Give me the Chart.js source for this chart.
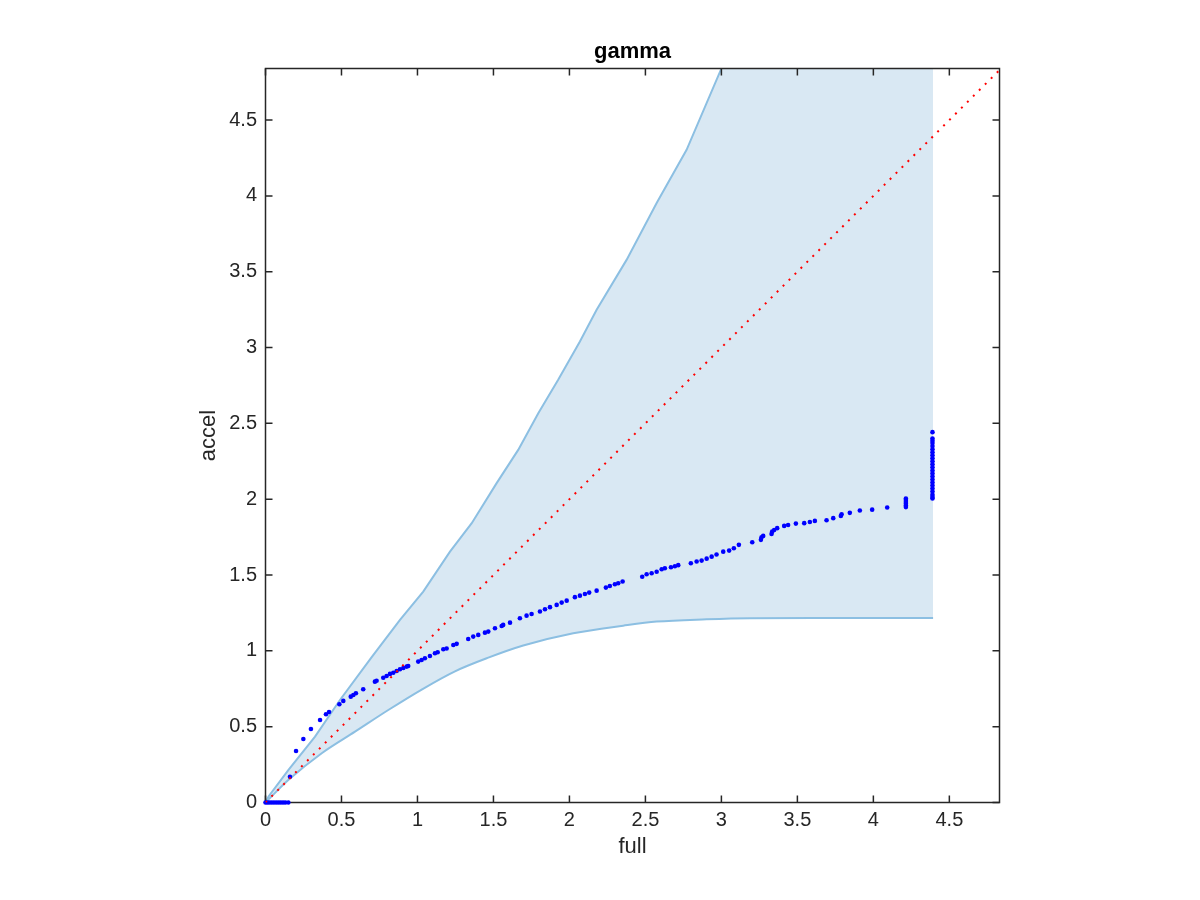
<!DOCTYPE html>
<html>
<head>
<meta charset="utf-8">
<title>gamma</title>
<script src="https://cdn.jsdelivr.net/npm/chart.js@4.4.1/dist/chart.umd.min.js"></script>
<style>
    body { margin: 0; background: #fff; }
    #chartContent { width: 1200px; height: 900px; }
</style>
</head>
<body>
<div id="chartContent"><canvas id="chart" width="1200" height="900"></canvas></div>
<script>
// tick values of both axes
const xTicks = [0, 0.5, 1, 1.5, 2, 2.5, 3, 3.5, 4, 4.5];
const yTicks = [0, 0.5, 1, 1.5, 2, 2.5, 3, 3.5, 4, 4.5];
const xMax = 4.83;
const yMax = 4.84;

// upper edge of the band (goes out of the box at the top)
const upperFull = [0, 0.02, 0.15, 0.326, 0.49, 0.70, 0.885, 1.038, 1.214, 1.357, 1.521, 1.663, 1.795, 1.926, 2.069, 2.179, 2.376, 2.574, 2.771, 3.001, 4.393];
const upperAccel = [0, 0.04, 0.214, 0.434, 0.676, 0.96, 1.204, 1.391, 1.654, 1.842, 2.106, 2.325, 2.567, 2.787, 3.04, 3.249, 3.578, 3.953, 4.304, 4.842, 7.55];

// lower edge of the band
const lowerFull = [0, 0.15, 0.37, 0.589, 0.808, 1.028, 1.247, 1.466, 1.696, 2.025, 2.354, 2.574, 2.903, 3.188, 3.6, 4.0, 4.393];
const lowerAccel = [0, 0.148, 0.325, 0.467, 0.61, 0.745, 0.865, 0.955, 1.035, 1.116, 1.166, 1.193, 1.208, 1.215, 1.216, 1.216, 1.216];

// y = x reference
const diagFull = [0, 4.84];
const diagAccel = [0, 4.84];

// measured points
const pointsFull = [
    0, 0.012, 0.025, 0.04, 0.055, 0.07, 0.085, 0.1, 0.115, 0.13, 0.15,
    0.161, 0.201, 0.249, 0.299, 0.359, 0.398, 0.418, 0.486, 0.512, 0.561, 0.578, 0.595, 0.643, 0.72, 0.731,
    0.775, 0.797, 0.819, 0.841, 0.863, 0.885, 0.907, 0.929, 0.939,
    1.005, 1.027, 1.049, 1.082, 1.115, 1.133, 1.170, 1.192, 1.236, 1.258, 1.334, 1.367, 1.4, 1.444, 1.466, 1.51, 1.554,
    1.564, 1.609, 1.674, 1.718, 1.751, 1.806, 1.839, 1.872, 1.916, 1.949, 1.982, 2.036, 2.069, 2.102, 2.130, 2.179, 2.240, 2.266, 2.299, 2.321,
    2.350, 2.479, 2.508, 2.541, 2.574, 2.607, 2.628, 2.668, 2.694, 2.716, 2.799, 2.837, 2.870, 2.903, 2.936, 2.968, 3.012, 3.051, 3.082, 3.115,
    3.203, 3.260, 3.264, 3.275, 3.330, 3.334, 3.347, 3.367, 3.413, 3.439, 3.490, 3.545, 3.582, 3.615, 3.692, 3.736, 3.786, 3.791, 3.845, 3.911, 3.992, 4.091,
    4.214, 4.214, 4.214, 4.214, 4.214, 4.214,
    4.389, 4.389, 4.389, 4.389, 4.389, 4.389, 4.389, 4.389, 4.389, 4.389, 4.389, 4.389,
    4.389, 4.389, 4.389, 4.389, 4.389, 4.389, 4.389, 4.389, 4.389, 4.389, 4.389
];
const pointsAccel = [
    0, 0, 0, 0, 0, 0, 0, 0, 0, 0, 0,
    0.170, 0.340, 0.419, 0.485, 0.544, 0.582, 0.597, 0.648, 0.670, 0.698, 0.709, 0.720, 0.747, 0.797, 0.803,
    0.823, 0.834, 0.848, 0.856, 0.867, 0.879, 0.887, 0.896, 0.900,
    0.929, 0.940, 0.951, 0.966, 0.984, 0.991, 1.011, 1.015, 1.039, 1.046, 1.078, 1.094, 1.105, 1.120, 1.127, 1.149, 1.164,
    1.171, 1.186, 1.215, 1.232, 1.243, 1.259, 1.274, 1.288, 1.303, 1.318, 1.331, 1.354, 1.364, 1.375, 1.384, 1.397, 1.417, 1.428, 1.439, 1.446,
    1.457, 1.489, 1.505, 1.512, 1.522, 1.538, 1.545, 1.551, 1.558, 1.565, 1.578, 1.589, 1.595, 1.608, 1.621, 1.635, 1.654, 1.661, 1.677, 1.699,
    1.716, 1.732, 1.749, 1.758, 1.771, 1.786, 1.797, 1.809, 1.824, 1.830, 1.839, 1.842, 1.850, 1.857, 1.861, 1.875, 1.890, 1.901, 1.910, 1.925, 1.931, 1.945,
    1.948, 1.958, 1.970, 1.982, 1.994, 2.005,
    2.442, 2.40, 2.385, 2.37, 2.35, 2.33, 2.31, 2.29, 2.27, 2.25, 2.23, 2.21,
    2.19, 2.17, 2.15, 2.13, 2.11, 2.09, 2.07, 2.05, 2.03, 2.015, 2.005
];

const axisColor = '#262626';

function toXY(xs, ys) {
    var out = [];
    var n = Math.min(xs.length, ys.length);
    for (var i = 0; i < n; i++) {
        out.push({ x: xs[i], y: ys[i] });
    }
    return out;
}

// box around the axes with inward ticks on all four sides (matlab look)
const boxPlugin = {
    id: 'boxPlugin',
    afterDatasetDraw(chart, args) {
        if (args.index !== 3) return;
        const ctx = chart.ctx;
        const area = chart.chartArea;
        const xs = chart.scales.x;
        const ys = chart.scales.y;
        const len = 7;
        ctx.save();
        ctx.strokeStyle = axisColor;
        ctx.lineWidth = 1.5;
        ctx.beginPath();
        xs.ticks.forEach(t => {
            const px = xs.getPixelForValue(t.value);
            ctx.moveTo(px, area.bottom);
            ctx.lineTo(px, area.bottom - len);
            ctx.moveTo(px, area.top);
            ctx.lineTo(px, area.top + len);
        });
        ys.ticks.forEach(t => {
            const py = ys.getPixelForValue(t.value);
            ctx.moveTo(area.left, py);
            ctx.lineTo(area.left + len, py);
            ctx.moveTo(area.right, py);
            ctx.lineTo(area.right - len, py);
        });
        ctx.stroke();
        ctx.strokeRect(area.left, area.top, area.right - area.left, area.bottom - area.top);
        ctx.restore();
    }
};

function configGraph() {
    const tickFont = { family: 'Liberation Sans', size: 20 };
    const labelFont = { family: 'Liberation Sans', size: 22 };
    return {
        type: 'scatter',
        data: {
            datasets: [
                {
                    label: 'y = x',
                    data: toXY(diagFull, diagAccel),
                    yAxisID: 'y',
                    showLine: true,
                    borderColor: '#ff0000',
                    borderWidth: 2,
                    borderDash: [2, 6.4],
                    pointRadius: 0,
                    fill: false,
                    order: 0
                },
                {
                    label: 'accel',
                    data: toXY(pointsFull, pointsAccel),
                    yAxisID: 'y',
                    pointRadius: 2.3,
                    pointBorderWidth: 0,
                    pointBackgroundColor: '#0000ff',
                    backgroundColor: '#0000ff',
                    clip: false,
                    order: 1
                },
                {
                    label: 'upper',
                    data: toXY(upperFull, upperAccel),
                    yAxisID: 'y',
                    showLine: true,
                    borderColor: 'rgb(140,191,226)',
                    borderWidth: 2,
                    backgroundColor: 'rgb(217,232,243)',
                    pointRadius: 0,
                    tension: 0,
                    fill: 3,
                    order: 3
                },
                {
                    label: 'lower',
                    data: toXY(lowerFull, lowerAccel),
                    yAxisID: 'y',
                    showLine: true,
                    borderColor: 'rgb(140,191,226)',
                    borderWidth: 2,
                    pointRadius: 0,
                    cubicInterpolationMode: 'monotone',
                    fill: false,
                    order: 2
                }
            ]
        },
        options: {
            responsive: false,
            animation: false,
            events: [],
            layout: { padding: { left: 65, right: 0, top: 0, bottom: 0 } },
            plugins: {
                legend: { display: false },
                tooltip: { enabled: false },
                title: {
                    display: true,
                    text: 'gamma',
                    color: '#000',
                    font: { family: 'Liberation Sans', size: 22, weight: 'bold' },
                    padding: { top: 38.5, bottom: 3.6 }
                }
            },
            scales: {
                x: {
                    type: 'linear',
                    position: 'bottom',
                    min: 0,
                    max: xMax,
                    grid: { display: false, drawTicks: false },
                    border: { display: false },
                    ticks: {
                        font: tickFont,
                        color: axisColor,
                        padding: 6.3,
                        autoSkip: false,
                        maxRotation: 0,
                        callback: v => String(v)
                    },
                    afterBuildTicks: s => { s.ticks = xTicks.map(v => ({ value: v })); },
                    afterFit: s => { s.height = 97.5; },
                    title: {
                        display: true,
                        text: 'full',
                        color: axisColor,
                        font: labelFont,
                        padding: { top: 0, bottom: 40 }
                    }
                },
                y: {
                    type: 'linear',
                    position: 'left',
                    min: 0,
                    max: yMax,
                    grid: { display: false, drawTicks: false },
                    border: { display: false },
                    ticks: {
                        font: tickFont,
                        color: axisColor,
                        padding: 8.5,
                        autoSkip: false,
                        callback: v => String(v)
                    },
                    afterBuildTicks: s => { s.ticks = yTicks.map(v => ({ value: v })); },
                    afterFit: s => { s.width = 200.5; },
                    title: {
                        display: true,
                        text: 'accel',
                        color: axisColor,
                        font: labelFont,
                        padding: { top: 131, bottom: 0 }
                    }
                },
                // empty box on the right, only keeps the white margin
                spacer: {
                    type: 'linear',
                    axis: 'y',
                    position: 'right',
                    grid: { display: false, drawTicks: false },
                    border: { display: false },
                    ticks: { display: false },
                    afterFit: s => { s.width = 200.5; }
                }
            }
        },
        plugins: [boxPlugin]
    };
}

document.addEventListener('DOMContentLoaded', function () {
    new Chart(document.getElementById('chart'), configGraph());
});
</script>
</body>
</html>
